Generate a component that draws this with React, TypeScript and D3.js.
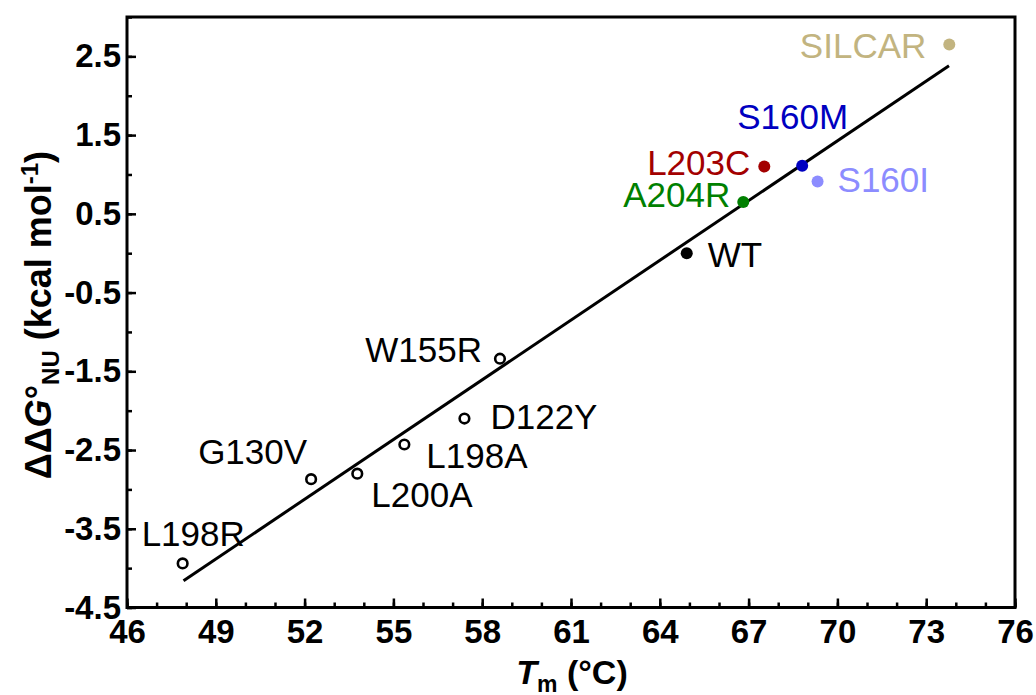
import React, { useEffect, useRef } from 'react';
import * as d3 from 'd3';

// mutants, melting temperature (°C) and stability change (kcal/mol)
const names = ['L198R', 'G130V', 'L200A', 'L198A', 'D122Y', 'W155R', 'WT', 'A204R', 'L203C', 'S160M', 'S160I', 'SILCAR'];
const tm = [47.88, 52.22, 53.78, 55.37, 57.4, 58.6, 64.91, 66.82, 67.53, 68.81, 69.33, 73.78];
const ddg = [-3.94, -2.87, -2.8, -2.43, -2.1, -1.34, 0, 0.65, 1.1, 1.11, 0.91, 2.65];
const filled = [false, false, false, false, false, false, true, true, true, true, true, true];
const colors = ['#000', '#000', '#000', '#000', '#000', '#000', '#000', '#008000', '#a30000', '#0000c0', '#8c8cff', '#c2b480'];

// linear fit end points
const fitX = [47.91, 73.77];
const fitY = [-4.16, 2.38];

const xTicks = [46, 49, 52, 55, 58, 61, 64, 67, 70, 73, 76];
const yTicks = [-4.5, -3.5, -2.5, -1.5, -0.5, 0.5, 1.5, 2.5];

// label placement relative to the point (pixels)
const labelPos = {
  L198R: [-41, -17, 'start'],
  G130V: [-4, -15, 'end'],
  L200A: [14, 33, 'start'],
  L198A: [22, 23, 'start'],
  D122Y: [26, 10, 'start'],
  W155R: [-18, 3, 'end'],
  WT: [21, 14, 'start'],
  A204R: [-13, 5, 'end'],
  L203C: [-14, 8, 'end'],
  S160M: [46, -37, 'end'],
  S160I: [20, 10, 'start'],
  SILCAR: [-23, 13, 'end'],
};

const W = 1036;
const H = 695;
const font = '"Liberation Sans", Arial, sans-serif';

export default function App() {
  const svgRef = useRef<SVGSVGElement>(null);

  useEffect(() => {
    const svg = d3.select(svgRef.current);
    svg.selectAll('*').remove();

    const left = 127, right = 1015, top = 17, bottom = 607.5;

    const x = d3.scaleLinear().domain([46, 76]).range([left, right]);
    const y = d3.scaleLinear().domain([-4.5, 3]).range([bottom, top]);

    // minor ticks
    svg.append('g')
      .attr('transform', `translate(0,${bottom})`)
      .call(d3.axisBottom(x).tickValues(d3.range(46, 77, 1)).tickSize(-5).tickFormat(() => ''))
      .call(g => g.select('.domain').remove())
      .call(g => g.selectAll('line').attr('stroke-width', 2.5));
    svg.append('g')
      .attr('transform', `translate(${left},0)`)
      .call(d3.axisLeft(y).tickValues(d3.range(-4.5, 3.01, 0.5)).tickSize(-5).tickFormat(() => ''))
      .call(g => g.select('.domain').remove())
      .call(g => g.selectAll('line').attr('stroke-width', 2.5));

    // major ticks and labels
    svg.append('g')
      .attr('transform', `translate(0,${bottom})`)
      .call(d3.axisBottom(x).tickValues(xTicks).tickSize(-9).tickPadding(12).tickFormat(d3.format('d')))
      .call(g => g.select('.domain').remove())
      .call(g => g.selectAll('line').attr('stroke-width', 2.5))
      .call(g => g.selectAll('text')
        .attr('font-family', font).attr('font-size', 33).attr('font-weight', 'bold').attr('fill', '#000'));
    svg.append('g')
      .attr('transform', `translate(${left},0)`)
      .call(d3.axisLeft(y).tickValues(yTicks).tickSize(-9).tickPadding(6)
        .tickFormat(d => (+d).toFixed(1)))
      .call(g => g.select('.domain').remove())
      .call(g => g.selectAll('line').attr('stroke-width', 2.5))
      .call(g => g.selectAll('text')
        .attr('font-family', font).attr('font-size', 33).attr('font-weight', 'bold').attr('fill', '#000'));

    // frame
    svg.append('rect')
      .attr('x', left).attr('y', top)
      .attr('width', right - left).attr('height', bottom - top)
      .attr('fill', 'none').attr('stroke', '#000').attr('stroke-width', 3);

    // fit line
    svg.append('line')
      .attr('x1', x(fitX[0])).attr('y1', y(fitY[0]))
      .attr('x2', x(fitX[1])).attr('y2', y(fitY[1]))
      .attr('stroke', '#000').attr('stroke-width', 3);

    const pts = names.map((n, i) => ({ n, x: tm[i], y: ddg[i], f: filled[i], c: colors[i] }));

    svg.append('g').selectAll('circle').data(pts).enter().append('circle')
      .attr('cx', d => x(d.x)).attr('cy', d => y(d.y))
      .attr('r', d => (d.f ? 6 : 4.8))
      .attr('fill', d => (d.f ? d.c : '#fff'))
      .attr('stroke', d => (d.f ? 'none' : d.c))
      .attr('stroke-width', 2.6);

    svg.append('g').selectAll('text').data(pts).enter().append('text')
      .attr('x', d => x(d.x) + (labelPos[d.n][0] as number))
      .attr('y', d => y(d.y) + (labelPos[d.n][1] as number))
      .attr('text-anchor', d => labelPos[d.n][2] as string)
      .attr('font-family', font).attr('font-size', 35)
      .attr('fill', d => d.c)
      .text(d => d.n);

    // axis titles
    const xt = svg.append('text')
      .attr('x', 572).attr('y', 684)
      .attr('text-anchor', 'middle')
      .attr('font-family', font).attr('font-size', 34).attr('font-weight', 'bold');
    xt.append('tspan').attr('font-style', 'italic').text('T');
    xt.append('tspan').attr('font-size', 23).attr('dy', 8).text('m');
    xt.append('tspan').attr('dy', -8).text(' (°C)');

    const yt = svg.append('text')
      .attr('transform', 'translate(51,315) rotate(-90)')
      .attr('text-anchor', 'middle')
      .attr('font-family', font).attr('font-size', 36).attr('font-weight', 'bold');
    yt.append('tspan').text('ΔΔ');
    yt.append('tspan').attr('font-style', 'italic').text('G');
    yt.append('tspan').text('°');
    yt.append('tspan').attr('font-size', 24).attr('dy', 8).text('NU');
    yt.append('tspan').attr('dy', -8).text(' (kcal mol');
    yt.append('tspan').attr('font-size', 24).attr('dy', -13).text('-1');
    yt.append('tspan').attr('dy', 13).text(')');
  }, []);

  return (
    <svg
      ref={svgRef}
      width={W}
      height={H}
      style={{ position: 'absolute', left: 0, top: 0, background: '#fff' }}
    />
  );
}
